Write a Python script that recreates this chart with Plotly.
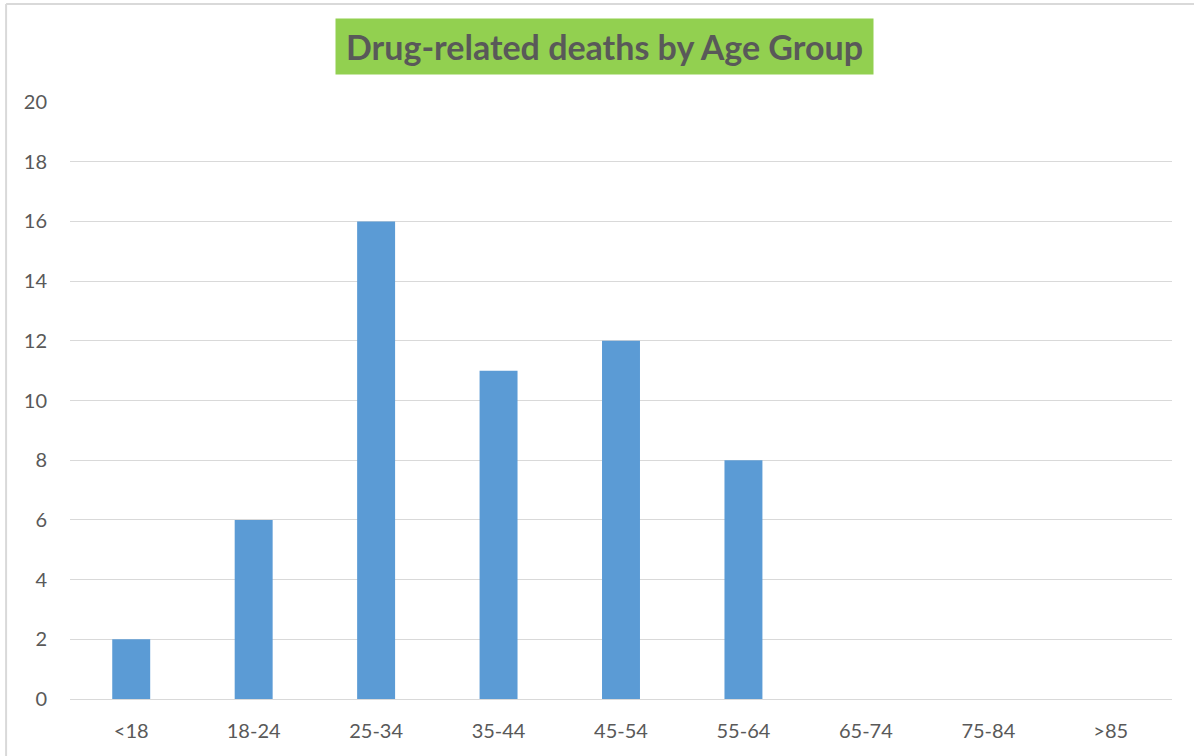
"""Drug-related deaths by age group, bar chart."""

import plotly.graph_objects as go

age_groups = ["<18", "18-24", "25-34", "35-44", "45-54", "55-64", "65-74", "75-84", ">85"]
deaths = [2, 6, 16, 11, 12, 8, 0, 0, 0]
y_ticks = list(range(0, 21, 2))

TEXT = "#595959"
GRID = "#D9D9D9"
FONT = "Lato, Carlito, Calibri, sans-serif"

fig = go.Figure(go.Bar(x=age_groups, y=deaths, marker_color="#5B9BD5", marker_line_width=0))

fig.update_layout(
    width=1194,
    height=756,
    margin=dict(l=70, r=22, t=102, b=57),
    paper_bgcolor="white",
    plot_bgcolor="white",
    bargap=0.69,
    showlegend=False,
    font=dict(family=FONT, size=20, color=TEXT),
)
fig.update_xaxes(showgrid=False, showline=False, ticks="", ticklabelstandoff=18,
                 tickfont=dict(size=20, color=TEXT))
fig.update_yaxes(
    range=[0, 20],
    tickvals=y_ticks,
    showgrid=True,
    gridcolor=GRID,
    gridwidth=1,
    zeroline=True,
    zerolinecolor=GRID,
    zerolinewidth=1,
    ticks="",
    ticklabelstandoff=22,
    tickfont=dict(size=20, color=TEXT),
)

# title in a green box
fig.add_annotation(
    text="<b>Drug-related deaths by Age Group</b>",
    xref="paper", yref="paper",
    x=0.485, y=1.093,
    xanchor="center", yanchor="middle",
    showarrow=False,
    width=535, height=53,
    bgcolor="#92D050",
    font=dict(family=FONT, size=34, color=TEXT),
)

# thin frame along the top and left edges
fig.add_shape(type="line", xref="paper", yref="paper",
              x0=-0.058, x1=1.03, y0=1.164, y1=1.164,
              line=dict(color=GRID, width=2))
fig.add_shape(type="line", xref="paper", yref="paper",
              x0=-0.058, x1=-0.058, y0=1.164, y1=-0.1,
              line=dict(color=GRID, width=2))

# drop the page margin so the figure sits at the window's top-left corner
fig.write_html(
    "out.html",
    config={"displayModeBar": False},
    post_script="document.body.style.margin = '0';",
)
